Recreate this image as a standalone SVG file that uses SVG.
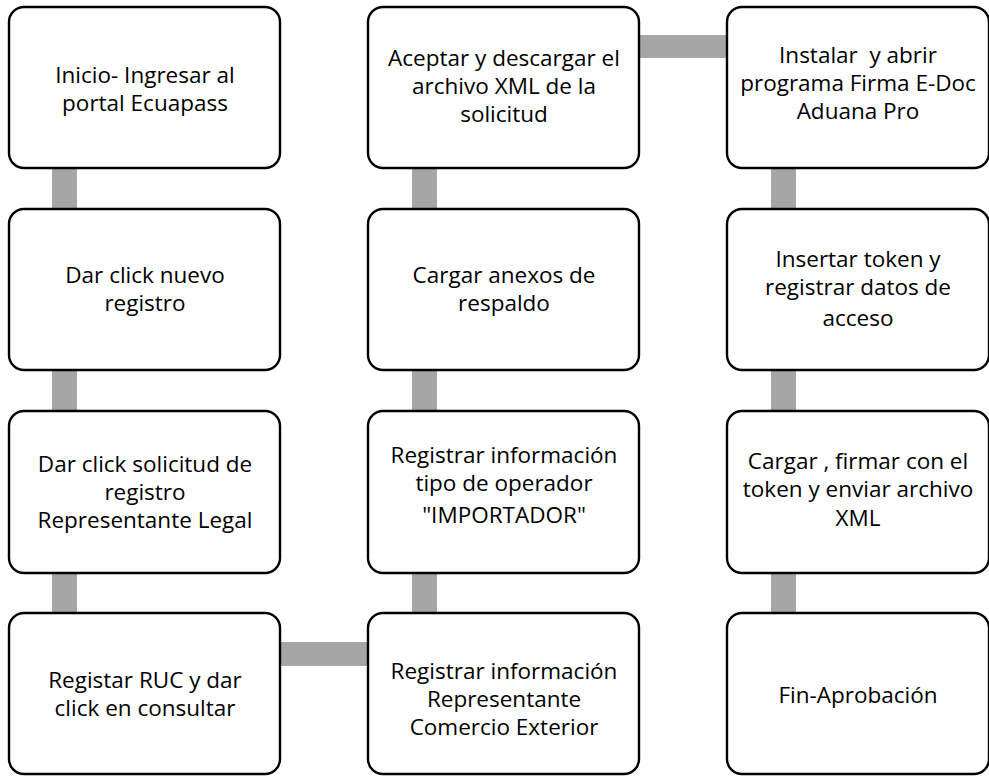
<svg xmlns="http://www.w3.org/2000/svg" width="989" height="776" viewBox="0 0 989 776">
<style>
.box{fill:#ffffff;stroke:#000000;stroke-width:2.4}
.conn{fill:#a6a6a6}
text{font-family:"Open Sans","Noto Sans","Liberation Sans",sans-serif;font-size:22.5px;fill:#000000;text-anchor:middle}
.pre{white-space:pre}
</style>
<rect width="989" height="776" fill="#ffffff"/>
<g id="connectors">
<rect class="conn" x="52" y="160" width="25" height="60"/>
<rect class="conn" x="52" y="362" width="25" height="60"/>
<rect class="conn" x="52" y="564" width="25" height="60"/>
<rect class="conn" x="270" y="642" width="108" height="24"/>
<rect class="conn" x="412" y="564" width="25" height="60"/>
<rect class="conn" x="412" y="362" width="25" height="60"/>
<rect class="conn" x="412" y="160" width="25" height="60"/>
<rect class="conn" x="629" y="35" width="108" height="23"/>
<rect class="conn" x="771" y="160" width="25" height="60"/>
<rect class="conn" x="771" y="362" width="25" height="60"/>
<rect class="conn" x="771" y="564" width="25" height="60"/>
</g>
<g id="n1"><rect class="box" x="9" y="7" width="271" height="161" rx="15"/>
<text x="145" y="83">Inicio- Ingresar al</text><text x="145" y="111">portal Ecuapass</text></g>
<g id="n2"><rect class="box" x="9" y="209" width="271" height="161" rx="15"/>
<text x="145" y="283">Dar click nuevo</text><text x="145" y="311">registro</text></g>
<g id="n3"><rect class="box" x="9" y="411" width="271" height="162" rx="15"/>
<text x="145" y="472">Dar click solicitud de</text><text x="145" y="500">registro</text><text x="145" y="528">Representante Legal</text></g>
<g id="n4"><rect class="box" x="9" y="613" width="271" height="161" rx="15"/>
<text x="145" y="688">Registar RUC y dar</text><text x="145" y="716">click en consultar</text></g>
<g id="n5"><rect class="box" x="368" y="613" width="271" height="161" rx="15"/>
<text x="504" y="679">Registrar información</text><text x="504" y="707">Representante</text><text x="504" y="735">Comercio Exterior</text></g>
<g id="n6"><rect class="box" x="368" y="411" width="271" height="162" rx="15"/>
<text x="504" y="463">Registrar información</text><text x="504" y="491">tipo de operador</text><text x="504" y="523">"IMPORTADOR"</text></g>
<g id="n7"><rect class="box" x="368" y="209" width="271" height="161" rx="15"/>
<text x="504" y="283">Cargar anexos de</text><text x="504" y="311">respaldo</text></g>
<g id="n8"><rect class="box" x="368" y="7" width="271" height="161" rx="15"/>
<text x="504" y="66">Aceptar y descargar el</text><text x="504" y="94">archivo XML de la</text><text x="504" y="122">solicitud</text></g>
<g id="n9"><rect class="box" x="727" y="7" width="262" height="161" rx="15"/>
<text class="pre" x="858" y="63">Instalar  y abrir</text><text x="858" y="91">programa Firma E-Doc</text><text x="858" y="119">Aduana Pro</text></g>
<g id="n10"><rect class="box" x="727" y="209" width="262" height="161" rx="15"/>
<text x="858" y="267">Insertar token y</text><text x="858" y="295">registrar datos de</text><text x="858" y="326">acceso</text></g>
<g id="n11"><rect class="box" x="727" y="411" width="262" height="162" rx="15"/>
<text x="858" y="469">Cargar , firmar con el</text><text x="858" y="497">token y enviar archivo</text><text x="858" y="526">XML</text></g>
<g id="n12"><rect class="box" x="727" y="613" width="262" height="161" rx="15"/>
<text x="858" y="703">Fin-Aprobación</text></g>
</svg>
